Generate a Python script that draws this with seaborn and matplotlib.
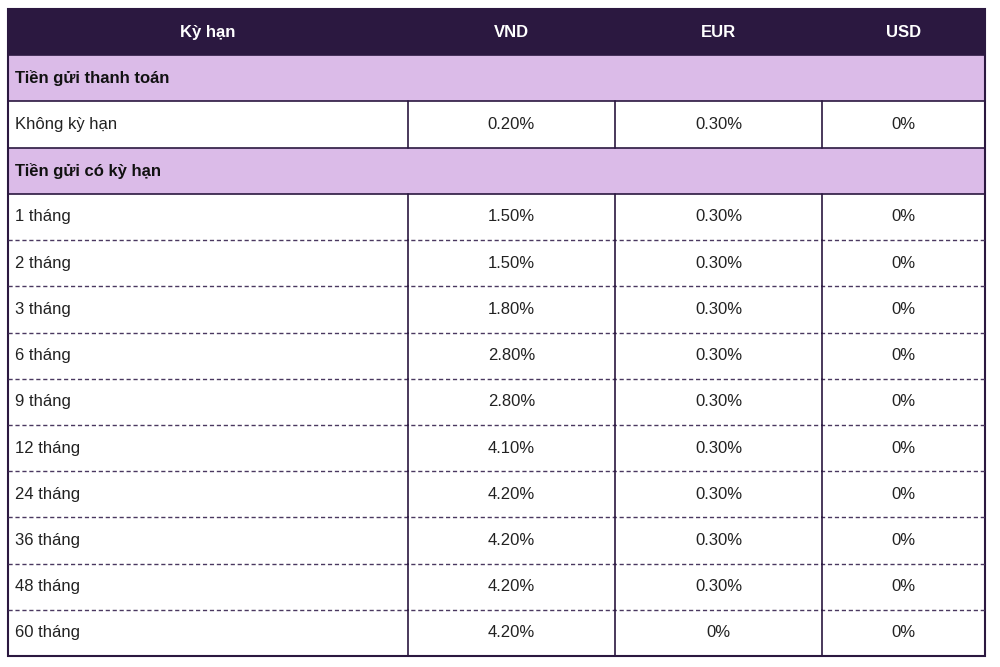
import matplotlib
matplotlib.use("Agg")
import matplotlib.pyplot as plt
import seaborn as sns
from matplotlib.patches import Rectangle

sns.set_theme(style="white")
plt.rcParams['font.family'] = 'Liberation Sans'

# Table content
columns = ['Kỳ hạn', 'VND', 'EUR', 'USD']
section_payment = 'Tiền gửi thanh toán'
payment_terms = ['Không kỳ hạn']
payment_vnd = ['0.20%']
payment_eur = ['0.30%']
payment_usd = ['0%']
section_term = 'Tiền gửi có kỳ hạn'
terms = ['1 tháng', '2 tháng', '3 tháng', '6 tháng', '9 tháng', '12 tháng',
         '24 tháng', '36 tháng', '48 tháng', '60 tháng']
vnd = ['1.50%', '1.50%', '1.80%', '2.80%', '2.80%', '4.10%',
       '4.20%', '4.20%', '4.20%', '4.20%']
eur = ['0.30%', '0.30%', '0.30%', '0.30%', '0.30%', '0.30%',
       '0.30%', '0.30%', '0.30%', '0%']
usd = ['0%'] * 10

# Layout in pixels
x_edges = [8, 408, 615, 822, 985]
top, bottom = 9, 656
n_rows = 2 + len(payment_terms) + 1 + len(terms)
row_h = (bottom - top) / n_rows
header_color = '#2b1840'
section_color = '#dbbbe8'
line_color = '#2b1840'
fs = 12

fig = plt.figure(figsize=(10, 6.67), dpi=100)
ax = fig.add_axes([0, 0, 1, 1])
ax.set_xlim(0, 1000)
ax.set_ylim(667, 0)
ax.axis('off')


def y_of(i):
    return top + i * row_h


def cell_center(c):
    return (x_edges[c] + x_edges[c + 1]) / 2


# Header
ax.add_patch(Rectangle((x_edges[0], y_of(0)), x_edges[-1] - x_edges[0], row_h,
                       facecolor=header_color, edgecolor='none'))
for c, name in enumerate(columns):
    ax.text(cell_center(c), y_of(0) + row_h / 2, name, color='white',
            fontsize=fs, fontweight='bold', ha='center', va='center')


def section(i, title):
    ax.add_patch(Rectangle((x_edges[0], y_of(i)), x_edges[-1] - x_edges[0], row_h,
                           facecolor=section_color, edgecolor=line_color, linewidth=1.2))
    ax.text(x_edges[0] + 7, y_of(i) + row_h / 2, title, fontsize=fs,
            fontweight='bold', color='#111111', ha='left', va='center')


def data_rows(start, labels, cols, dashed):
    for k, lab in enumerate(labels):
        i = start + k
        yc = y_of(i) + row_h / 2
        ax.text(x_edges[0] + 7, yc, lab, fontsize=fs, color='#222222',
                ha='left', va='center')
        for c, vals in enumerate(cols, start=1):
            ax.text(cell_center(c), yc, vals[k], fontsize=fs, color='#222222',
                    ha='center', va='center')
        for xe in x_edges[1:-1]:
            ax.plot([xe, xe], [y_of(i), y_of(i + 1)], color=line_color, lw=1.2)
        if k < len(labels) - 1 and dashed:
            ax.plot([x_edges[0], x_edges[-1]], [y_of(i + 1)] * 2, color='#4a3860',
                    lw=1.0, linestyle=(0, (3, 2)))


row = 1
section(row, section_payment)
row += 1
data_rows(row, payment_terms, [payment_vnd, payment_eur, payment_usd], True)
row += len(payment_terms)
section(row, section_term)
row += 1
data_rows(row, terms, [vnd, eur, usd], True)

# Outer border
ax.add_patch(Rectangle((x_edges[0], top), x_edges[-1] - x_edges[0], bottom - top,
                       facecolor='none', edgecolor=line_color, linewidth=1.5))

fig.savefig('out.png', dpi=100)
